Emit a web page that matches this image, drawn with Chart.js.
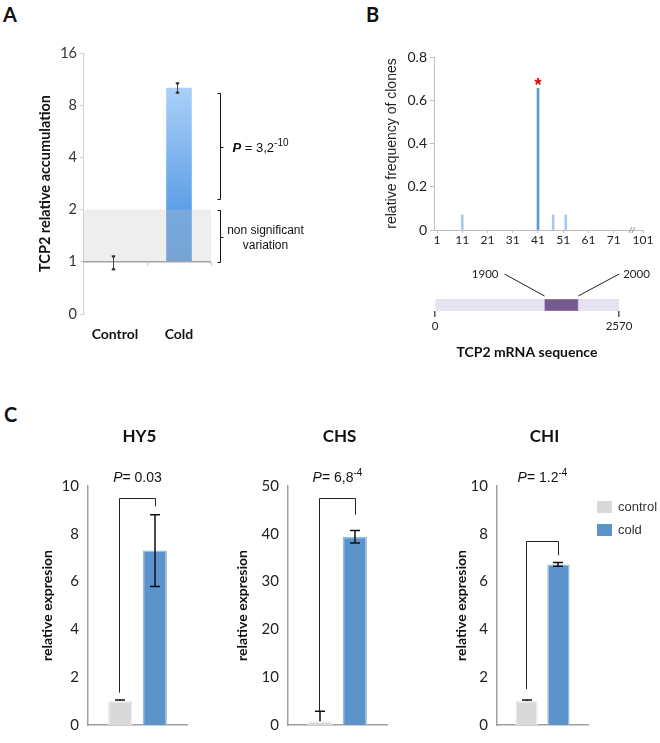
<!DOCTYPE html>
<html><head><meta charset="utf-8">
<script src="https://cdn.jsdelivr.net/npm/chart.js@4.4.1/dist/chart.umd.min.js"></script>
<style>
html,body{margin:0;padding:0;background:#fff}
#fig{position:relative;width:660px;height:743px;overflow:hidden;background:#fff}
canvas{position:absolute}
.t{position:absolute;font-family:Lato,"Open Sans",sans-serif;font-weight:700;color:#111;line-height:1;white-space:nowrap}
</style></head><body><div id="fig">
<div class="t" style="left:3px;top:4px;font-size:20px">A</div>
<div class="t" style="left:366px;top:4px;font-size:20px">B</div>
<div class="t" style="left:4px;top:404px;font-size:20px">C</div>
</div>
<script>
// ---------------- DATA ----------------
// Panel A
const aCategories = ['Control', 'Cold'];
const aValues = [1, 10.1];
const aErrLow = [0.9, 9.4];
const aErrHigh = [1.08, 10.75];
const aTickLabels = ['0', '1', '2', '4', '8', '16'];
const aPValue = '3,2';
const aPExp = '-10';
const aSignifRange = [2.3, 9.4];
const aNonSignifRange = [1, 2];

// Panel B
const bPositions = [11, 41, 47, 52];
const bFrequency = [0.07, 0.655, 0.07, 0.07];
const bTickLabels = ['1', '11', '21', '31', '41', '51', '61', '71', '101'];
const bTickPositions = [1, 11, 21, 31, 41, 51, 61, 71, 82.6];
const mrnaLength = 2570;
const mrnaFragment = [1530, 2000];
const mrnaFragmentLabels = ['1900', '2000'];

// Panel C
const cGenes = ['HY5', 'CHS', 'CHI'];
const cSeries = ['control', 'cold'];
const cControl = [1.0, 0.8, 1.0];
const cControlErr = [0.05, 2.1, 0.05];
const cCold = [7.3, 39.4, 6.72];
const cColdErr = [1.5, 1.3, 0.08];
const cYMax = [10, 50, 10];
const cPValue = ['0.03', '6,8', '1.2'];
const cPExp = ['', '-4', '-4'];
const cBracketTop = [9.5, 47.5, 7.7];
const cBracketControlEnd = [1.35, 2.9, 1.5];
const cBracketColdEnd = [9.15, 44, 7.1];

// ---------------- HELPERS ----------------
const LATO = 'Lato, "Open Sans", sans-serif';
const ARIAL = '"Liberation Sans", Arial, sans-serif';
Chart.defaults.font.family = LATO;
Chart.defaults.color = '#222';
const FIG = document.getElementById('fig');

function makeCanvas(left, top, w, h) {
  const c = document.createElement('canvas');
  c.width = w; c.height = h;
  c.style.left = left + 'px'; c.style.top = top + 'px';
  c.style.width = w + 'px'; c.style.height = h + 'px';
  FIG.appendChild(c);
  return c;
}
function drawRich(ctx, pieces, x, y, align) {
  ctx.save();
  ctx.textBaseline = 'alphabetic';
  ctx.textAlign = 'left';
  let w = 0;
  pieces.forEach(p => { ctx.font = p.f; p.w = ctx.measureText(p.t).width; w += p.w; });
  let cx = align === 'center' ? x - w / 2 : x;
  ctx.fillStyle = '#111';
  pieces.forEach(p => { ctx.font = p.f; ctx.fillText(p.t, cx, y + (p.dy || 0)); cx += p.w; });
  ctx.restore();
}
const baseOpts = { responsive: false, animation: false, devicePixelRatio: 1 };
const noPlugins = { legend: { display: false }, tooltip: { enabled: false } };

// ---------------- PANEL A ----------------
const aLog = aValues.map(v => Math.log2(v));
const aPlugin = {
  id: 'aExtras',
  afterDatasetsDraw(chart) {
    const { ctx, chartArea: ca, scales: { x, y } } = chart;
    ctx.save();
    const y1 = y.getPixelForValue(Math.log2(aNonSignifRange[1]));
    const y0 = y.getPixelForValue(Math.log2(aNonSignifRange[0]));
    ctx.fillStyle = 'rgba(195,195,195,0.28)';
    ctx.fillRect(ca.left + 1, y1, ca.right - ca.left - 1, y0 - y1);
    ctx.strokeStyle = '#a3a3a3'; ctx.lineWidth = 1.5;
    ctx.beginPath(); ctx.moveTo(ca.left, y0); ctx.lineTo(ca.right, y0); ctx.stroke();
    ctx.lineWidth = 1; ctx.strokeStyle = '#c8c8c8';
    [0.5, 1.5].forEach(v => {
      const px = Math.round(x.getPixelForValue(v)) + 0.5;
      ctx.beginPath(); ctx.moveTo(px, y0); ctx.lineTo(px, y0 + 4); ctx.stroke();
    });
    const meta = chart.getDatasetMeta(0);
    ctx.strokeStyle = '#444'; ctx.fillStyle = '#333'; ctx.lineWidth = 1;
    aValues.forEach((v, i) => {
      const px = Math.round(meta.data[i].x) - 1.5;
      const yh = y.getPixelForValue(Math.log2(aErrHigh[i]));
      const yl = y.getPixelForValue(Math.log2(aErrLow[i]));
      ctx.beginPath(); ctx.moveTo(px, yh); ctx.lineTo(px, yl);
      ctx.moveTo(px - 2, yh); ctx.lineTo(px + 2, yh);
      ctx.moveTo(px - 2, yl); ctx.lineTo(px + 2, yl); ctx.stroke();
      ctx.fillRect(px - 1.5, yh - 0.5, 3, 2);
      ctx.fillRect(px - 1.5, yl - 1.5, 3, 2);
    });
    const bx = Math.round(ca.right + 9) + 0.5;
    ctx.strokeStyle = '#111'; ctx.lineWidth = 1;
    function bracket(v0, v1) {
      const ya = Math.round(y.getPixelForValue(Math.log2(v1))) + 0.5;
      const yb = Math.round(y.getPixelForValue(Math.log2(v0))) + 0.5;
      ctx.beginPath();
      ctx.moveTo(bx - 3, ya); ctx.lineTo(bx, ya); ctx.lineTo(bx, yb); ctx.lineTo(bx - 3, yb);
      const m = Math.round((ya + yb) / 2) + 0.5;
      ctx.moveTo(bx, m); ctx.lineTo(bx + 3, m);
      ctx.stroke();
      return (ya + yb) / 2;
    }
    const m1 = bracket(aSignifRange[0], aSignifRange[1]);
    const m2 = bracket(aNonSignifRange[0], aNonSignifRange[1]);
    drawRich(ctx, [
      { t: 'P', f: 'italic bold 13px ' + ARIAL },
      { t: ' = ' + aPValue, f: '13px ' + ARIAL },
      { t: aPExp, f: '10px ' + ARIAL, dy: -6 }
    ], bx + 12, m1 + 5, 'left');
    ctx.font = '12px ' + ARIAL; ctx.textAlign = 'center'; ctx.fillStyle = '#111';
    ctx.textBaseline = 'alphabetic';
    ctx.fillText('non significant', bx + 45, m2 - 3);
    ctx.fillText('variation', bx + 45, m2 + 12);
    ctx.restore();
  }
};
new Chart(makeCanvas(0, 0, 330, 345), {
  type: 'bar',
  data: {
    labels: aCategories,
    datasets: [{
      data: aLog,
      borderWidth: 0,
      barPercentage: 0.5, categoryPercentage: 0.8,
      backgroundColor: (c) => {
        const ch = c.chart; if (!ch.chartArea) return '#7fb3ec';
        const y = ch.scales.y;
        const top = y.getPixelForValue(Math.max(...aLog)), bot = y.getPixelForValue(0);
        const g = ch.ctx.createLinearGradient(0, top, 0, bot);
        g.addColorStop(0, '#abd0f8'); g.addColorStop(0.7, '#5d9fe7'); g.addColorStop(1, '#5898df');
        return g;
      }
    }]
  },
  options: Object.assign({}, baseOpts, {
    layout: { padding: { left: 37, right: 119, top: 53, bottom: 0 } },
    plugins: noPlugins,
    scales: {
      x: {
        grid: { display: false, drawTicks: false }, border: { display: false },
        ticks: { font: { size: 14, weight: 'bold' }, color: '#111', padding: 12 },
        afterFit: s => { s.height = 31; }
      },
      y: {
        type: 'linear', min: -1, max: 4,
        afterBuildTicks: s => { s.ticks = aTickLabels.map((_, i) => ({ value: i - 1 })); },
        ticks: { callback: v => aTickLabels[v + 1], font: { size: 14.5 }, color: '#333', padding: 3 },
        grid: { drawOnChartArea: false, drawTicks: true, tickLength: 3, color: '#d0d0d0' },
        border: { color: '#d0d0d0' },
        title: { display: true, text: 'TCP2 relative accumulation', font: { size: 14.5, weight: 'bold' }, color: '#111', padding: 0 },
        afterFit: s => { s.width = 46; }
      }
    }
  }),
  plugins: [aPlugin]
});

// ---------------- PANEL B ----------------
const bMax = Math.max(...bFrequency);
const bPlugin = {
  id: 'bExtras',
  afterDatasetsDraw(chart) {
    const { ctx, scales: { x, y } } = chart;
    const iMax = bFrequency.indexOf(bMax);
    const px = x.getPixelForValue(bPositions[iMax]), py = y.getPixelForValue(bMax);
    ctx.save();
    ctx.fillStyle = '#e00000'; ctx.font = 'bold 18px ' + ARIAL; ctx.textAlign = 'center'; ctx.textBaseline = 'alphabetic';
    ctx.fillText('*', px, py + 3);
    const bx = x.getPixelForValue(78.2), by = y.getPixelForValue(0);
    ctx.strokeStyle = '#999'; ctx.lineWidth = 1;
    ctx.beginPath();
    ctx.moveTo(bx - 3, by + 3); ctx.lineTo(bx, by - 3);
    ctx.moveTo(bx, by + 3); ctx.lineTo(bx + 3, by - 3);
    ctx.stroke();
    ctx.restore();
  }
};
new Chart(makeCanvas(330, 0, 330, 250), {
  type: 'bar',
  data: {
    datasets: [{
      data: bPositions.map((p, k) => ({ x: p, y: bFrequency[k] })),
      backgroundColor: bFrequency.map(f => f === bMax ? '#5b9bd5' : '#a9c8ea'),
      barThickness: 2, borderWidth: 0
    }]
  },
  options: Object.assign({}, baseOpts, {
    layout: { padding: { left: 54, right: 17, top: 57, bottom: 0 } },
    plugins: noPlugins,
    scales: {
      x: {
        type: 'linear', min: -0.2, max: 82.6, offset: false,
        afterBuildTicks: s => { s.ticks = bTickPositions.map(v => ({ value: v })); },
        ticks: { autoSkip: false, maxRotation: 0, callback: (v, idx) => bTickLabels[idx], font: { size: 12 }, color: '#222', padding: 0 },
        grid: { drawOnChartArea: false, offset: false, tickLength: 3, color: '#bfbfbf' },
        border: { color: '#bfbfbf' },
        afterFit: s => { s.height = 20; }
      },
      y: {
        min: 0, max: 0.8,
        ticks: { stepSize: 0.2, callback: v => v === 0 ? '0' : v.toFixed(1), font: { size: 14 }, color: '#222', padding: 3 },
        grid: { drawOnChartArea: false, tickLength: 4, color: '#bfbfbf' },
        border: { color: '#bfbfbf' },
        title: { display: true, text: 'relative frequency of clones', font: { family: ARIAL, size: 14 }, color: '#222', padding: 0 },
        afterFit: s => { s.width = 50; }
      }
    }
  }),
  plugins: [bPlugin]
});

// mRNA schematic
const mPlugin = {
  id: 'mExtras',
  afterDatasetsDraw(chart) {
    const { ctx, chartArea: ca, scales: { x } } = chart;
    const x0 = x.getPixelForValue(mrnaFragment[0]), x1 = x.getPixelForValue(mrnaFragment[1]);
    const yTop = ca.top - 3, yEnd = ca.top - 25;
    ctx.save();
    ctx.strokeStyle = '#222'; ctx.lineWidth = 1;
    ctx.beginPath();
    ctx.moveTo(x0, yTop); ctx.lineTo(x0 - 40, yEnd);
    ctx.moveTo(x1, yTop); ctx.lineTo(x1 + 41, yEnd);
    ctx.stroke();
    ctx.fillStyle = '#222'; ctx.font = '11.5px ' + LATO; ctx.textBaseline = 'alphabetic';
    ctx.textAlign = 'right'; ctx.fillText(mrnaFragmentLabels[0], x0 - 46, yEnd + 4);
    ctx.textAlign = 'left'; ctx.fillText(mrnaFragmentLabels[1], x1 + 45, yEnd + 4);
    ctx.restore();
  }
};
new Chart(makeCanvas(330, 255, 330, 110), {
  type: 'bar',
  data: {
    labels: ['mRNA'],
    datasets: [
      { label: 'fragment', data: [mrnaFragment], backgroundColor: '#77588f', borderColor: '#9580a8', borderWidth: 1, order: 0 },
      { label: 'TCP2 mRNA', data: [[0, mrnaLength]], backgroundColor: '#e7e2ef', borderWidth: 0, order: 1 }
    ]
  },
  options: Object.assign({}, baseOpts, {
    indexAxis: 'y',
    layout: { padding: { left: 105, right: 41, top: 44, bottom: 0 } },
    plugins: noPlugins,
    datasets: { bar: { grouped: false, barPercentage: 1, categoryPercentage: 1 } },
    scales: {
      y: { display: false },
      x: {
        type: 'linear', min: 0, max: mrnaLength,
        afterBuildTicks: s => { s.ticks = [{ value: 0 }, { value: mrnaLength }]; },
        ticks: { font: { size: 11.5 }, color: '#222', padding: 2, maxRotation: 0, autoSkip: false, callback: v => String(v) },
        grid: { drawOnChartArea: false, tickLength: 6, color: '#555', lineWidth: 1.5 },
        border: { display: false },
        title: { display: true, text: 'TCP2 mRNA sequence', font: { size: 14, weight: 'bold' }, color: '#111', padding: { top: 0, bottom: 4 } },
        afterFit: s => { s.height = 54; }
      }
    }
  }),
  plugins: [mPlugin]
});

// ---------------- PANEL C ----------------
const cLayout = [
  { left: 0, width: 215, pl: 39, pr: 28, yw: 49 },
  { left: 215, width: 215, pl: 19, pr: 43, yw: 54 },
  { left: 430, width: 230, pl: 23, pr: 72, yw: 44 }
];
const C_TOP = 380, C_H = 363;
const cColors = ['#d9d9d9', '#5b93ca'];
const cBorders = ['#ececec', '#9dbde0'];

function cPlugin(i) {
  return {
    id: 'cExtras' + i,
    afterDatasetsDraw(chart) {
      const { ctx, chartArea: ca, scales: { y } } = chart;
      const mc = chart.getDatasetMeta(0).data[0], md = chart.getDatasetMeta(1).data[0];
      ctx.save();
      ctx.strokeStyle = '#111'; ctx.lineWidth = 1.5;
      // control: plus-only error bar
      const pc = Math.round(mc.x);
      const yCtop = y.getPixelForValue(cControl[i] + cControlErr[i]);
      ctx.beginPath();
      ctx.moveTo(pc, y.getPixelForValue(cControl[i])); ctx.lineTo(pc, yCtop);
      ctx.moveTo(pc - 5, yCtop); ctx.lineTo(pc + 5, yCtop);
      ctx.stroke();
      // cold: symmetric error bar
      const pd = Math.round(md.x);
      const ya = y.getPixelForValue(cCold[i] - cColdErr[i]), yb = y.getPixelForValue(cCold[i] + cColdErr[i]);
      ctx.beginPath();
      ctx.moveTo(pd, ya); ctx.lineTo(pd, yb);
      ctx.moveTo(pd - 5, ya); ctx.lineTo(pd + 5, ya);
      ctx.moveTo(pd - 5, yb); ctx.lineTo(pd + 5, yb);
      ctx.stroke();
      // significance bracket
      ctx.lineWidth = 1; ctx.strokeStyle = '#222';
      const xl = Math.round(mc.x) - 0.5, xr = Math.round(md.x) + 0.5;
      const yt = Math.round(y.getPixelForValue(cBracketTop[i])) + 0.5;
      ctx.beginPath();
      ctx.moveTo(xl, y.getPixelForValue(cBracketControlEnd[i]));
      ctx.lineTo(xl, yt); ctx.lineTo(xr, yt);
      ctx.lineTo(xr, y.getPixelForValue(cBracketColdEnd[i]));
      ctx.stroke();
      const pieces = [{ t: 'P', f: 'italic 14px ' + ARIAL }, { t: '= ' + cPValue[i], f: '14px ' + ARIAL }];
      if (cPExp[i]) pieces.push({ t: cPExp[i], f: '10px ' + ARIAL, dy: -6 });
      drawRich(ctx, pieces, (xl + xr) / 2, ca.top - 4, 'center');
      if (i === cGenes.length - 1) {
        const lx = ca.right + 9;
        chart.data.datasets.forEach((ds, k) => {
          const cy = ca.top + 21 + k * 23;
          ctx.fillStyle = ds.backgroundColor;
          ctx.fillRect(lx, cy - 6, 15, 12);
          ctx.fillStyle = '#333'; ctx.font = '13px ' + ARIAL;
          ctx.textAlign = 'left'; ctx.textBaseline = 'middle';
          ctx.fillText(ds.label, lx + 21, cy);
        });
      }
      ctx.restore();
    }
  };
}

cGenes.forEach((gene, i) => {
  const L = cLayout[i];
  const ch = new Chart(makeCanvas(L.left, C_TOP, L.width, C_H), {
    type: 'bar',
    data: {
      labels: [gene],
      datasets: [
        { label: cSeries[0], data: [cControl[i]], backgroundColor: cColors[0], borderColor: cBorders[0], borderWidth: 1.5 },
        { label: cSeries[1], data: [cCold[i]], backgroundColor: cColors[1], borderColor: cBorders[1], borderWidth: 1.5 }
      ]
    },
    options: Object.assign({}, baseOpts, {
      layout: { padding: { left: L.pl, right: L.pr, top: 106, bottom: 0 } },
      plugins: noPlugins,
      datasets: { bar: { categoryPercentage: 0.7, barPercentage: 0.7 } },
      scales: {
        x: {
          grid: { display: false, drawTicks: false }, ticks: { display: false },
          border: { color: '#a0a0a0', width: 1.5 },
          afterFit: s => { s.height = 12; }
        },
        y: {
          min: 0, max: cYMax[i],
          ticks: { stepSize: cYMax[i] / 5, padding: 9, font: { size: 15 }, color: '#222' },
          grid: { display: false, drawTicks: false },
          border: { color: '#a0a0a0', width: 1.5 },
          title: { display: true, text: 'relative expresion', font: { size: 14, weight: 'bold' }, color: '#111', padding: 0 },
          afterFit: s => { s.width = L.yw; }
        }
      }
    }),
    plugins: [cPlugin(i)]
  });
  const ca = ch.chartArea;
  const d = document.createElement('div');
  d.className = 't';
  d.style.fontSize = '17px';
  d.style.left = (L.left + (ca.left + ca.right) / 2 - 50 + 2) + 'px';
  d.style.width = '100px';
  d.style.textAlign = 'center';
  d.style.top = '427px';
  d.textContent = gene;
  FIG.appendChild(d);
});
</script>
</body></html>
